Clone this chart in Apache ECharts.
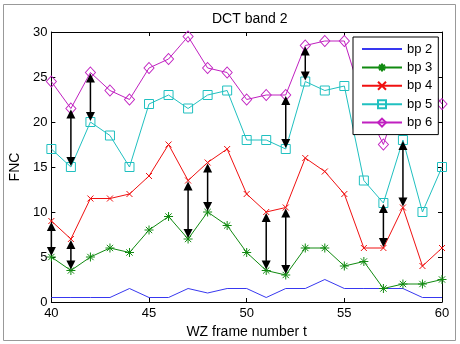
<!DOCTYPE html>
<html>
<head>
<meta charset="utf-8">
<script src="https://cdn.jsdelivr.net/npm/echarts@6/dist/echarts.min.js"></script>
<style>
  html, body { margin: 0; padding: 0; background: #fff; }
  #chart { width: 460px; height: 344px; }
</style>
</head>
<body>
<div id="chart"></div>
<script>
const frames = [40, 41, 42, 43, 44, 45, 46, 47, 48, 49, 50, 51, 52, 53, 54, 55, 56, 57, 58, 59, 60];
const bp2 = [0.5, 0.5, 0.5, 0.5, 1.5, 0.5, 0.5, 1.5, 1, 1.5, 1.5, 0.5, 1.5, 1.5, 2.5, 1.5, 1.5, 1.5, 1.5, 0.5, 0.5];
const bp3 = [5, 3.5, 5, 6, 5.5, 8, 9.5, 7, 10, 8.5, 5.5, 3.5, 3, 6, 6, 4, 4.5, 1.5, 2, 2, 2.5];
const bp4 = [9, 7, 11.5, 11.5, 12, 14, 17.5, 13.5, 15.5, 17, 12, 10, 10.5, 16, 14.5, 12, 6, 6, 10.5, 4, 6];
const bp5 = [17, 15, 20, 18.5, 15, 22, 23, 21.5, 23, 23.5, 18, 18, 17, 24.5, 23.5, 24, 13.5, 11, 18, 10, 15];
const bp6 = [24.5, 21.5, 25.5, 23.5, 22.5, 26, 27, 29.5, 26, 25.5, 22.5, 23, 23, 28.5, 29, 29, 22, 17.5, 24, 25, 22];

// double arrows between curves
const arrowX = [40, 41, 41, 42, 47, 48, 51, 52, 52, 53, 57, 58];
const arrowHigh = [9, 7, 21.5, 25.5, 13.5, 15.5, 10, 10.5, 23, 28.5, 11, 18];
const arrowLow = [5, 3.5, 15, 20, 7, 10, 3.5, 3, 17, 24.5, 6, 10.5];

const xTicks = [40, 45, 50, 55, 60];
const yTicks = [0, 5, 10, 15, 20, 25, 30];

const FONT = 'Liberation Sans, Arial, Helvetica, sans-serif';

const chart = echarts.init(document.getElementById('chart'), null, { renderer: 'canvas' });

function pairs(ys) {
  return frames.map((x, i) => [x, ys[i]]);
}

function lineSeries(name, ys, color, symbol, size) {
  return {
    name: name,
    type: 'line',
    data: pairs(ys),
    symbol: symbol,
    symbolSize: size,
    showSymbol: symbol !== 'none',
    clip: false,
    lineStyle: { color: color, width: 1 },
    itemStyle: { color: 'rgba(255,255,255,0)', borderColor: color, borderWidth: 1 },
    emphasis: { disabled: true },
    z: 3
  };
}

const asterisk = 'path://M0,-10L0,10M-10,0L10,0M-7,-7L7,7M-7,7L7,-7';
const cross = 'path://M-5,-5L5,5M-5,5L5,-5';

function renderArrow(params, api) {
  const x = api.value(0);
  const p1 = api.coord([x, api.value(1)]);
  const p2 = api.coord([x, api.value(2)]);
  const hl = 9, hw = 4.5, gap = 1;
  const top = p1[1] + gap;
  const bot = p2[1] - gap;
  const cx = p1[0];
  return {
    type: 'group',
    children: [
      { type: 'line', shape: { x1: cx, y1: top + hl - 1, x2: cx, y2: bot - hl + 1 }, style: { stroke: '#000', lineWidth: 1.5 } },
      { type: 'polygon', shape: { points: [[cx, top], [cx - hw, top + hl], [cx + hw, top + hl]] }, style: { fill: '#000' } },
      { type: 'polygon', shape: { points: [[cx, bot], [cx - hw, bot - hl], [cx + hw, bot - hl]] }, style: { fill: '#000' } }
    ]
  };
}

const baseAxis = {
  axisLine: { show: true, onZero: false, lineStyle: { color: '#000', width: 1 } },
  axisTick: { show: true, inside: true, length: 4, lineStyle: { color: '#000' } },
  splitLine: { show: false }
};

const option = {
  animation: false,
  backgroundColor: '#fff',
  textStyle: { fontFamily: FONT },
  title: {
    text: 'DCT band 2',
    left: 207,
    top: 7,
    textStyle: { fontFamily: FONT, fontSize: 14, fontWeight: 'normal', color: '#000' }
  },
  graphic: [{
    type: 'rect',
    shape: { x: 3.5, y: 4.5, width: 452, height: 336 },
    style: { fill: 'none', stroke: '#999', lineWidth: 1 },
    silent: true
  }],
  legend: {
    data: [
      { name: 'bp 2', itemStyle: { opacity: 0 } },
      'bp 3', 'bp 4', 'bp 5', 'bp 6'
    ],
    orient: 'vertical',
    left: 353,
    top: 37,
    padding: [5.5, 6, 5.5, 8],
    itemWidth: 40,
    itemHeight: 10,
    itemGap: 5.4,
    backgroundColor: '#fff',
    borderColor: '#000',
    borderWidth: 1,
    textStyle: { fontFamily: FONT, fontSize: 13, color: '#000' },
    z: 10
  },
  grid: { left: 46, right: 18, top: 32, bottom: 42 },
  xAxis: [
    Object.assign({}, baseAxis, {
      type: 'value', min: 40, max: 60, interval: 5, position: 'bottom',
      name: 'WZ frame number t', nameLocation: 'middle', nameGap: 22,
      nameTextStyle: { fontFamily: FONT, fontSize: 14, color: '#000' },
      axisLabel: { color: '#000', fontSize: 13, fontFamily: FONT, margin: 5,
        formatter: v => xTicks.indexOf(v) >= 0 ? String(v) : '' }
    }),
    Object.assign({}, baseAxis, {
      type: 'value', min: 40, max: 60, interval: 5, position: 'top',
      axisLabel: { show: false }
    })
  ],
  yAxis: [
    Object.assign({}, baseAxis, {
      type: 'value', min: 0, max: 30, interval: 5, position: 'left',
      name: 'FNC', nameLocation: 'middle', nameGap: 29, nameRotate: 90,
      nameTextStyle: { fontFamily: FONT, fontSize: 14, color: '#000' },
      axisLabel: { color: '#000', fontSize: 13, fontFamily: FONT, margin: 4,
        formatter: v => yTicks.indexOf(v) >= 0 ? String(v) : '' }
    }),
    Object.assign({}, baseAxis, {
      type: 'value', min: 0, max: 30, interval: 5, position: 'right',
      axisLabel: { show: false }
    })
  ],
  series: [
    lineSeries('bp 2', bp2, '#3838f0', 'none', 0),
    lineSeries('bp 3', bp3, '#108a10', asterisk, 9),
    lineSeries('bp 4', bp4, '#f01010', cross, 6),
    lineSeries('bp 5', bp5, '#20c0c0', 'rect', 9),
    lineSeries('bp 6', bp6, '#c020c0', 'diamond', [10, 11]),
    {
      name: 'arrows',
      type: 'custom',
      renderItem: renderArrow,
      data: arrowX.map((x, i) => [x, arrowHigh[i], arrowLow[i]]),
      encode: { x: 0, y: [1, 2] },
      clip: false,
      silent: true,
      z: 4
    }
  ]
};

chart.setOption(option);
</script>
</body>
</html>
